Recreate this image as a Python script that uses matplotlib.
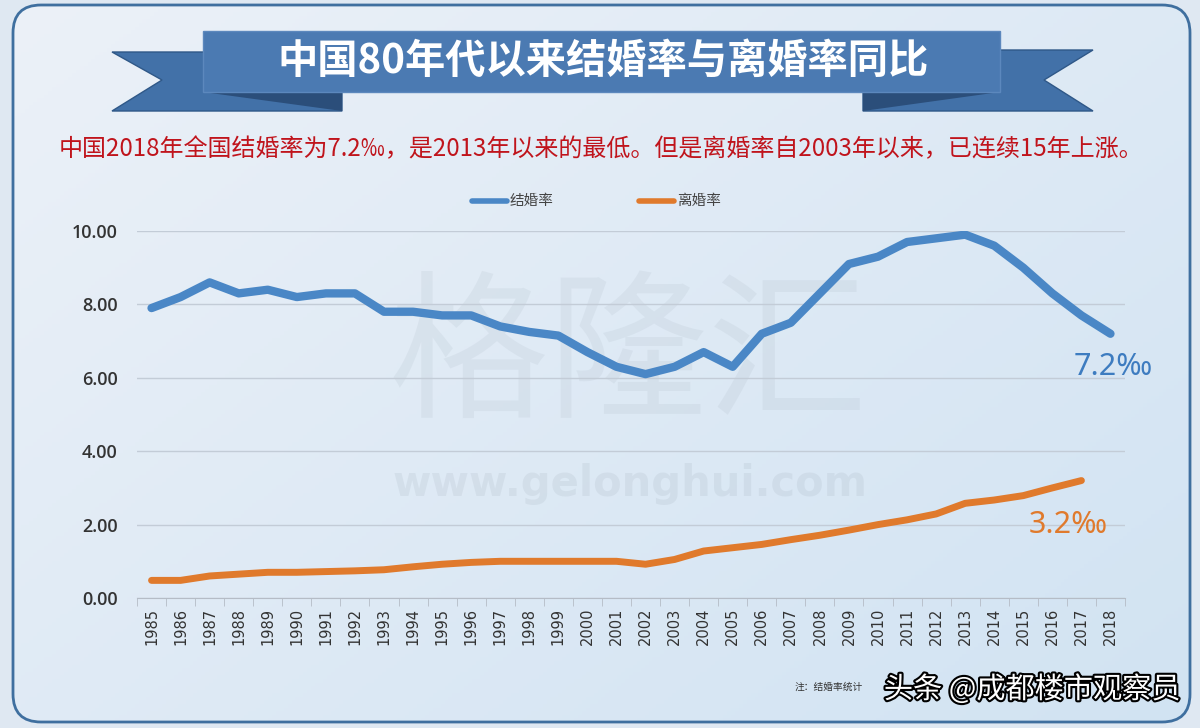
import numpy as np
import matplotlib.pyplot as plt
import matplotlib.patheffects as pe
from matplotlib.patches import FancyBboxPatch, Polygon, Rectangle

plt.rcParams['font.family'] = ['Noto Sans CJK SC', 'DejaVu Sans']

years = ['1985', '1986', '1987', '1988', '1989', '1990', '1991', '1992', '1993', '1994',
         '1995', '1996', '1997', '1998', '1999', '2000', '2001', '2002', '2003', '2004',
         '2005', '2006', '2007', '2008', '2009', '2010', '2011', '2012', '2013', '2014',
         '2015', '2016', '2017', '2018']
marriage = [7.9, 8.2, 8.6, 8.3, 8.4, 8.2, 8.3, 8.3, 7.8, 7.8,
            7.7, 7.7, 7.4, 7.25, 7.15, 6.7, 6.3, 6.1, 6.3, 6.7,
            6.3, 7.2, 7.5, 8.3, 9.1, 9.3, 9.7, 9.8, 9.9, 9.6,
            9.0, 8.3, 7.7, 7.2]
divorce = [0.48, 0.48, 0.6, 0.65, 0.7, 0.7, 0.72, 0.74, 0.77, 0.85,
           0.92, 0.97, 1.0, 1.0, 1.0, 1.0, 1.0, 0.92, 1.05, 1.28,
           1.37, 1.46, 1.59, 1.71, 1.85, 2.0, 2.13, 2.29, 2.58, 2.67,
           2.79, 3.0, 3.2, np.nan]
yticks = [0, 2, 4, 6, 8, 10]

title = '中国80年代以来结婚率与离婚率同比'
subtitle = '中国2018年全国结婚率为7.2‰，是2013年以来的最低。但是离婚率自2003年以来，已连续15年上涨。'

BLUE = '#4a87c6'
ORANGE = '#e07a2c'

fig = plt.figure(figsize=(12, 7.28), dpi=100)
fig.patch.set_facecolor('#dfe8f2')

# background layer in pixel coordinates
bg = fig.add_axes([0, 0, 1, 1])
bg.set_xlim(0, 1200)
bg.set_ylim(728, 0)
bg.axis('off')

gx, gy = np.meshgrid(np.linspace(0, 1, 300), np.linspace(0, 1, 200))
t = np.clip(0.55 * gx + 0.45 * gy, 0, 1)[..., None]
c0 = np.array([0.925, 0.945, 0.972])
c1 = np.array([0.820, 0.890, 0.950])
grad = c0 * (1 - t) + c1 * t
frame = FancyBboxPatch((13, 5), 1177, 717, boxstyle='round,pad=0,rounding_size=28',
                       facecolor='none', edgecolor='#3f6f9f', lw=2, zorder=3)
bg.add_patch(frame)
im = bg.imshow(grad, extent=(13, 1190, 722, 5), aspect='auto', zorder=1)
im.set_clip_path(frame)

# title ribbon
tail_c = '#4271a8'
fold_c = '#2b4e7a'
bg.add_patch(Polygon([(112, 52), (342, 52), (342, 111), (112, 111), (162, 80)],
                     facecolor=tail_c, edgecolor='#2f5888', lw=1, zorder=4))
bg.add_patch(Polygon([(203, 92), (342, 92), (342, 111)], facecolor=fold_c, zorder=5))
bg.add_patch(Polygon([(863, 50), (1093, 50), (1044, 80), (1093, 111), (863, 111)],
                     facecolor=tail_c, edgecolor='#2f5888', lw=1, zorder=4))
bg.add_patch(Polygon([(863, 92), (1000, 92), (863, 111)], facecolor=fold_c, zorder=5))
bg.add_patch(Rectangle((203, 31), 797, 61, facecolor='#4b7ab2', edgecolor='#5c88bd',
                       lw=1, zorder=6))
bg.text(603, 61, title, color='white', fontsize=29, fontweight='bold',
        ha='center', va='center', zorder=7)

bg.text(601, 149, subtitle, color='#c0141c', fontsize=17.3, fontweight='medium',
        ha='center', va='center', zorder=7)

# legend
bg.plot([472, 507], [201, 201], color=BLUE, lw=4, solid_capstyle='round', zorder=7)
bg.text(510, 201, '结婚率', fontsize=10.5, color='#444444', va='center', ha='left', zorder=7)
bg.plot([639, 674], [201, 201], color=ORANGE, lw=4, solid_capstyle='round', zorder=7)
bg.text(677, 201, '离婚率', fontsize=10.5, color='#444444', va='center', ha='left', zorder=7)

# watermark
bg.text(628, 360, '格隆汇', fontsize=115, color='#9aa6b4', alpha=0.13,
        ha='center', va='center', zorder=2)
bg.text(630, 484, 'www.gelonghui.com', fontsize=30, fontweight='bold', color='#9aa6b4',
        alpha=0.16, ha='center', va='center', zorder=2, family=['DejaVu Sans'])

# footer
bg.text(795, 687, '注：结婚率统计', fontsize=7, color='#333333', va='center', zorder=7)
bg.text(1180, 690, '头条 @成都楼市观察员', fontsize=21, color='white', ha='right',
        va='center', zorder=8,
        path_effects=[pe.withStroke(linewidth=3, foreground='black')])

# chart
ax = fig.add_axes([137 / 1200, 1 - 598 / 728, 988 / 1200, 367 / 728])
ax.set_facecolor('none')
x = np.arange(len(years))
ax.plot(x, marriage, color=BLUE, lw=6, solid_capstyle='round', solid_joinstyle='round', zorder=3)
ax.plot(x, divorce, color=ORANGE, lw=5, solid_capstyle='round', solid_joinstyle='round', zorder=3)

ax.set_xlim(-0.5, len(years) - 0.5)
ax.set_ylim(0, 10)
ax.set_yticks(yticks)
ax.set_yticklabels(['%.2f' % v for v in yticks], fontsize=13, color='#333333',
                   fontweight='semibold', family=['Open Sans', 'DejaVu Sans'])
ax.set_xticks(x)
ax.set_xticklabels(years, rotation=90, fontsize=10.5, color='#333333',
                   family=['DejaVu Sans'])
ax.set_xticks(np.arange(len(years) + 1) - 0.5, minor=True)
ax.tick_params(axis='x', which='major', length=0, pad=7)
ax.tick_params(axis='x', which='minor', length=6, color='#b5bcc6')
ax.tick_params(axis='y', length=0, pad=14)
ax.grid(axis='y', color='#c3ccd7', lw=1)
ax.set_axisbelow(True)
for s in ['top', 'right', 'left']:
    ax.spines[s].set_visible(False)
ax.spines['bottom'].set_color('#b5bcc6')
ax.spines['bottom'].set_zorder(1)

ax.text(len(years) - 0.9, 6.3, '7.2‰', color='#3d7cc0', fontsize=22, ha='center',
        va='center', family=['Noto Sans', 'DejaVu Sans'])
ax.text(len(years) - 2.45, 1.98, '3.2‰', color=ORANGE, fontsize=22, ha='center',
        va='center', family=['Noto Sans', 'DejaVu Sans'])

fig.savefig('out.png', dpi=100)
